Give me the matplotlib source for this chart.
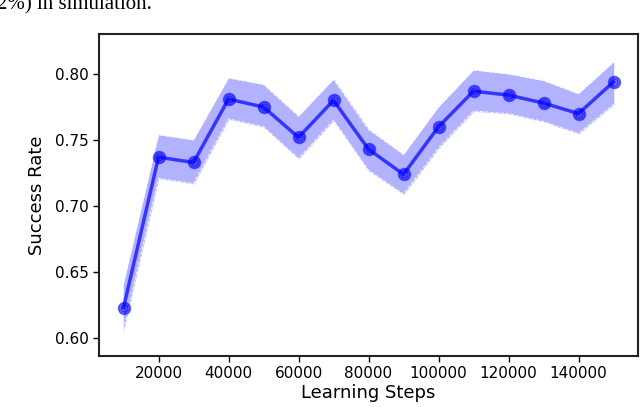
import matplotlib
matplotlib.use("Agg")
import matplotlib.pyplot as plt
import numpy as np

# datos
steps = [10000, 20000, 30000, 40000, 50000, 60000, 70000, 80000,
         90000, 100000, 110000, 120000, 130000, 140000, 150000]
success = [0.623, 0.737, 0.733, 0.781, 0.775, 0.752, 0.780, 0.743,
           0.724, 0.760, 0.787, 0.784, 0.778, 0.770, 0.794]
upper = [0.641, 0.754, 0.750, 0.797, 0.792, 0.768, 0.796, 0.758,
         0.739, 0.775, 0.803, 0.800, 0.795, 0.785, 0.809]
lower = [0.606, 0.721, 0.717, 0.766, 0.760, 0.736, 0.765, 0.727,
         0.709, 0.744, 0.772, 0.770, 0.764, 0.755, 0.777]
yticks = [0.60, 0.65, 0.70, 0.75, 0.80]
xticks = [20000, 40000, 60000, 80000, 100000, 120000, 140000]

fig = plt.figure(figsize=(6.4, 4.07), dpi=100)
ax = fig.add_axes([99 / 640, 1 - 356 / 407, 539 / 640, 322 / 407])

# banda sombreada con borde discontinuo blanco
ax.fill_between(steps, lower, upper, color="blue", alpha=0.3, linewidth=0.8,
                edgecolor=(0.6, 0.6, 1.0))
ax.plot(steps, upper, color="white", lw=0.7, ls="--", alpha=0.9)
ax.plot(steps, lower, color="white", lw=0.7, ls="--", alpha=0.9)

ax.plot(steps, success, color="blue", lw=2.5, alpha=0.7)
ax.plot(steps, success, ls="none", marker="o", ms=8.5, mfc="blue", mec="blue",
        alpha=0.55, mew=1.2)
ax.plot(steps, success, ls="none", marker="o", ms=5, mfc="none", mec="blue",
        alpha=0.6, mew=0.8)

ax.set_xlim(3000, 157000)
ax.set_ylim(0.5864, 0.8303)
ax.set_xticks(xticks)
ax.set_yticks(yticks)
ax.set_yticklabels([f"{v:.2f}" for v in yticks])
ax.tick_params(labelsize=11, length=4, width=1, colors="black")
ax.set_xlabel("Learning Steps", fontsize=13, labelpad=2)
ax.set_ylabel("Success Rate", fontsize=13, labelpad=6)
for sp in ax.spines.values():
    sp.set_linewidth(1.5)
    sp.set_color("#222222")

# texto del articulo, arriba a la izquierda
fig.text(-0.004, 1 - 9 / 407, "2%) in simulation.", fontsize=15,
         family="Liberation Serif", va="baseline", ha="left")

fig.savefig("out.png", dpi=100)
